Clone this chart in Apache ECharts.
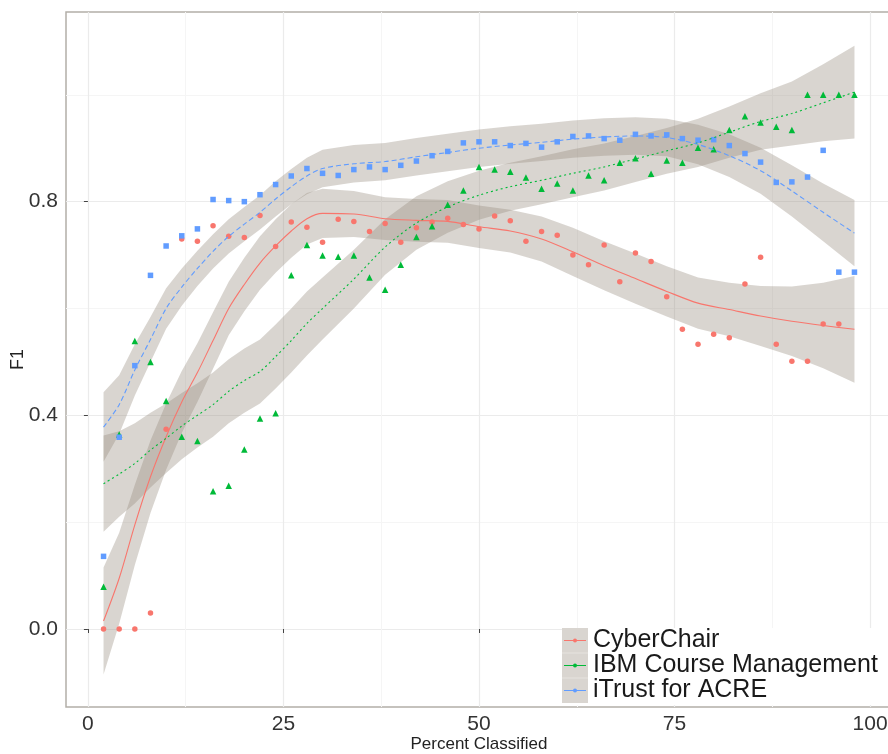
<!DOCTYPE html>
<html>
<head>
<meta charset="utf-8">
<script src="https://cdn.jsdelivr.net/npm/echarts@6/dist/echarts.min.js"></script>
<style>
html,body{margin:0;padding:0;background:#ffffff;}
#chart{width:888px;height:754px;}
</style>
</head>
<body>
<div id="chart"></div>
<script>
// ---------- DATA ----------
const seriesNames = ['CyberChair', 'IBM Course Management', 'iTrust for ACRE'];

const pointX = [2,4,6,8,10,12,14,16,18,20,22,24,26,28,30,32,34,36,38,40,42,44,46,48,50,
                52,54,56,58,60,62,64,66,68,70,72,74,76,78,80,82,84,86,88,90,92,94,96,98];

const cyberChairF1 = [0,0,0,0.03,0.374,0.73,0.726,0.755,0.735,0.733,0.774,0.716,0.762,0.752,0.724,0.767,0.763,0.744,0.759,0.724,0.751,0.762,0.769,0.757,0.749,
                      0.773,0.764,0.726,0.744,0.737,0.70,0.682,0.719,0.65,0.704,0.688,0.622,0.561,0.533,0.552,0.545,0.646,0.696,0.533,0.501,0.501,0.571,0.571,null];

const ibmF1 = [0.079,0.364,0.539,0.50,0.427,0.36,0.352,0.258,0.268,0.336,0.394,0.404,0.662,0.719,0.699,0.697,0.699,0.658,0.635,0.682,0.734,0.754,0.794,0.821,0.865,
               0.86,0.856,0.845,0.824,0.834,0.821,0.849,0.84,0.873,0.881,0.852,0.877,0.873,0.901,0.898,0.934,0.96,0.948,0.94,0.934,1.0,1.0,1.0,1.0];

const itrustF1 = [0.136,0.359,0.493,0.662,0.717,0.736,0.749,0.804,0.802,0.80,0.813,0.832,0.848,0.862,0.853,0.849,0.86,0.865,0.86,0.868,0.876,0.886,0.894,0.91,0.912,
                  0.912,0.905,0.909,0.902,0.912,0.922,0.923,0.918,0.915,0.926,0.923,0.925,0.918,0.915,0.916,0.905,0.89,0.874,0.836,0.837,0.846,0.896,0.668,0.668];

// smoothed fits and confidence bands
const fitX = [2,4,6,8,10,12,14,16,18,20,22,24,26,28,30,34,38,42,46,50,54,58,62,66,70,74,78,82,86,90,94,98];

const cyberChairFit   = [0.015,0.095,0.195,0.285,0.36,0.425,0.48,0.54,0.60,0.645,0.685,0.717,0.745,0.768,0.778,0.777,0.768,0.765,0.763,0.753,0.745,0.73,0.706,0.68,0.656,0.632,0.61,0.598,0.586,0.576,0.568,0.561];
const cyberChairLower = [-0.085,0.010,0.120,0.217,0.298,0.367,0.425,0.487,0.55,0.595,0.635,0.667,0.695,0.72,0.732,0.734,0.728,0.725,0.723,0.713,0.705,0.688,0.661,0.634,0.609,0.585,0.562,0.548,0.53,0.511,0.488,0.461];
const cyberChairUpper = [0.115,0.18,0.27,0.353,0.422,0.483,0.535,0.593,0.65,0.695,0.735,0.767,0.795,0.816,0.824,0.82,0.808,0.805,0.803,0.793,0.785,0.772,0.751,0.726,0.703,0.679,0.658,0.648,0.642,0.641,0.648,0.661];

const ibmFit   = [0.272,0.29,0.31,0.335,0.357,0.38,0.40,0.42,0.445,0.465,0.482,0.51,0.54,0.572,0.60,0.655,0.715,0.76,0.79,0.812,0.828,0.84,0.853,0.865,0.88,0.895,0.91,0.93,0.95,0.965,0.985,1.005];
const ibmLower = [0.182,0.21,0.235,0.265,0.292,0.318,0.34,0.36,0.385,0.405,0.422,0.45,0.48,0.512,0.542,0.60,0.663,0.71,0.742,0.766,0.783,0.795,0.808,0.821,0.837,0.852,0.865,0.882,0.897,0.905,0.913,0.918];
const ibmUpper = [0.362,0.37,0.385,0.405,0.422,0.442,0.46,0.48,0.505,0.525,0.542,0.57,0.60,0.632,0.658,0.71,0.767,0.81,0.838,0.858,0.873,0.885,0.898,0.909,0.923,0.938,0.955,0.978,1.003,1.025,1.057,1.092];

const itrustFit   = [0.378,0.42,0.485,0.542,0.60,0.64,0.675,0.707,0.735,0.758,0.78,0.805,0.828,0.848,0.862,0.871,0.875,0.884,0.892,0.90,0.906,0.911,0.917,0.921,0.923,0.92,0.907,0.886,0.858,0.82,0.78,0.741];
const itrustLower = [0.313,0.365,0.437,0.50,0.562,0.605,0.642,0.675,0.703,0.726,0.748,0.772,0.795,0.814,0.827,0.836,0.84,0.849,0.857,0.865,0.871,0.876,0.882,0.886,0.888,0.885,0.870,0.846,0.815,0.772,0.726,0.679];
const itrustUpper = [0.443,0.475,0.533,0.584,0.638,0.675,0.708,0.739,0.767,0.79,0.812,0.838,0.861,0.882,0.897,0.906,0.91,0.919,0.927,0.935,0.941,0.946,0.952,0.956,0.958,0.955,0.944,0.926,0.901,0.868,0.834,0.803];

const xTicks = [0, 25, 50, 75, 100];
const xMinorTicks = [12.5, 37.5, 62.5, 87.5];
const yTicks = [0, 0.4, 0.8];
const yMinorTicks = [0.2, 0.6, 1.0];

// ---------- STYLE ----------
const colors = ['#F8766D', '#00BA38', '#619CFF'];
const symbols = ['circle', 'triangle', 'rect'];
const symbolSizes = [5.5, 6.5, 5.5];
const lineTypes = ['solid', [2, 3], [5, 3]];
const bandFill = 'rgba(150,138,125,0.36)';
const FONT = '"Liberation Sans", Arial, sans-serif';

const pointSets = [cyberChairF1, ibmF1, itrustF1];
const fits = [cyberChairFit, ibmFit, itrustFit];
const lowers = [cyberChairLower, ibmLower, itrustLower];
const uppers = [cyberChairUpper, ibmUpper, itrustUpper];

const series = [];
pointSets.forEach((vals, k) => {
  series.push({
    type: 'scatter',
    name: seriesNames[k],
    symbol: symbols[k],
    symbolSize: symbolSizes[k],
    itemStyle: { color: colors[k], opacity: 1 },
    silent: true,
    data: pointX.map((x, i) => [x, vals[i]]).filter(d => d[1] !== null)
  });
});
fits.forEach((fit, k) => {
  const lo = lowers[k], up = uppers[k];
  series.push({
    type: 'custom',
    name: seriesNames[k],
    silent: true,
    data: fitX.map((x, i) => [x, lo[i], up[i]]),
    encode: { x: 0, y: [1, 2] },
    renderItem: function (params, api) {
      if (params.dataIndex !== 0) return null;
      const top = fitX.map((x, i) => api.coord([x, up[i]]));
      const bot = fitX.map((x, i) => api.coord([x, lo[i]])).reverse();
      return { type: 'polygon', shape: { points: top.concat(bot) }, style: { fill: bandFill } };
    }
  });
  series.push({
    type: 'line',
    name: seriesNames[k],
    silent: true,
    showSymbol: false,
    smooth: 0.3,
    lineStyle: { color: colors[k], width: 1.1, type: lineTypes[k] },
    itemStyle: { color: colors[k] },
    data: fitX.map((x, i) => [x, fit[i]])
  });
});

const keyY = [640.5, 665.5, 690.5];
const keyGraphics = [];
seriesNames.forEach((n, i) => {
  keyGraphics.push({ type: 'line', z: 300, zlevel: 1, silent: true,
    shape: { x1: 564, y1: keyY[i], x2: 586, y2: keyY[i] },
    style: { stroke: colors[i], lineWidth: 1 } });
  keyGraphics.push({ type: 'circle', z: 300, zlevel: 1, silent: true,
    shape: { cx: 575, cy: keyY[i], r: 2 }, style: { fill: colors[i] } });
});
keyGraphics.push({ type: 'line', z: 300, zlevel: 1, silent: true,
  shape: { x1: 562, y1: 653, x2: 588, y2: 653 }, style: { stroke: '#e6e3df', lineWidth: 1 } });
keyGraphics.push({ type: 'line', z: 300, zlevel: 1, silent: true,
  shape: { x1: 562, y1: 678, x2: 588, y2: 678 }, style: { stroke: '#e6e3df', lineWidth: 1 } });

const chart = echarts.init(document.getElementById('chart'), null, { renderer: 'canvas' });
chart.setOption({
  animation: false,
  backgroundColor: '#ffffff',
  textStyle: { fontFamily: FONT },
  grid: {
    left: 66, top: 12, width: 826, height: 695,
    containLabel: false, outerBoundsMode: 'none',
    show: true, borderColor: '#b3afa8', borderWidth: 1.5, backgroundColor: '#ffffff'
  },
  xAxis: [{
    type: 'value', min: -2.8, max: 102.8,
    axisLine: { show: false },
    axisTick: { show: true, customValues: xTicks, length: 4, lineStyle: { color: '#444', width: 1 } },
    axisLabel: { customValues: xTicks, fontSize: 21, color: '#333', margin: 7, fontFamily: FONT },
    splitLine: { show: true, lineStyle: { color: '#ebebeb', width: 1.2 } },
    name: 'Percent Classified', nameLocation: 'middle', nameGap: 29, nameMoveOverlap: false,
    nameTextStyle: { fontSize: 17, color: '#222', fontFamily: FONT }
  }, {
    type: 'value', min: -2.8, max: 102.8, position: 'bottom',
    axisLine: { show: false },
    axisTick: { show: false, customValues: xMinorTicks },
    axisLabel: { show: false, customValues: xMinorTicks },
    splitLine: { show: true, lineStyle: { color: '#f5f5f5', width: 1 } }
  }],
  yAxis: [{
    type: 'value', min: -0.146, max: 1.155,
    axisLine: { show: false },
    axisTick: { show: true, customValues: yTicks, length: 4, lineStyle: { color: '#444', width: 1 } },
    axisLabel: { customValues: yTicks, fontSize: 21, color: '#333', margin: 8, fontFamily: FONT,
                 formatter: v => Number(v).toFixed(1) },
    splitLine: { show: true, lineStyle: { color: '#ebebeb', width: 1.2 } },
    name: 'F1', nameLocation: 'middle', nameGap: 39, nameMoveOverlap: false,
    nameTextStyle: { fontSize: 18, color: '#222', fontFamily: FONT }
  }, {
    type: 'value', min: -0.146, max: 1.155, position: 'left',
    axisLine: { show: false },
    axisTick: { show: false, customValues: yMinorTicks },
    axisLabel: { show: false, customValues: yMinorTicks },
    splitLine: { show: true, lineStyle: { color: '#f5f5f5', width: 1 } }
  }],
  legend: {
    orient: 'vertical', left: 562, top: 628,
    itemWidth: 26, itemHeight: 25, itemGap: 0,
    padding: [0, 12, 2, 0],
    backgroundColor: '#ffffff',
    selectedMode: false,
    textStyle: { fontSize: 25, color: '#1a1a1a', fontFamily: FONT },
    data: seriesNames.map(n => ({ name: n, icon: 'rect', itemStyle: { color: '#d9d5d0' } }))
  },
  graphic: { elements: keyGraphics },
  series: series
});
</script>
</body>
</html>
